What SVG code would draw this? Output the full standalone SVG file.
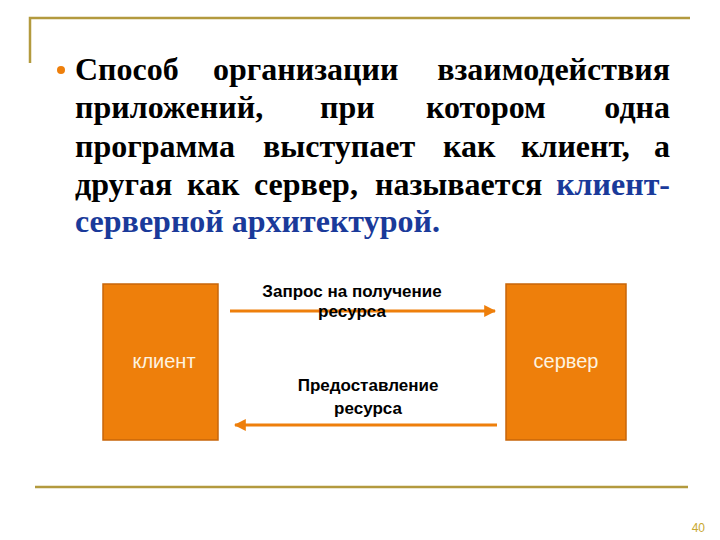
<svg xmlns="http://www.w3.org/2000/svg" width="720" height="540" viewBox="0 0 720 540">
<defs>
<style>
.frame{stroke:#b39a3e;stroke-width:2.5;fill:none}
.body{font-family:"Liberation Serif","Times New Roman",serif;font-weight:bold;font-size:32px;fill:#000}
.end{text-anchor:end}
.blue{fill:#1a3a9a}
.box{fill:#ee7f0b;stroke:#c7660a;stroke-width:1.5}
.boxlbl{font-family:"Liberation Sans",Arial,sans-serif;font-size:20px;fill:#fdf3e0;text-anchor:middle}
.lbl{font-family:"Liberation Sans",Arial,sans-serif;font-size:17px;font-weight:bold;fill:#000;text-anchor:middle}
.conn{stroke:#ee7f0b;stroke-width:3;fill:none}
</style>
<marker id="ah" viewBox="0 0 10 10" refX="9" refY="5" markerWidth="4" markerHeight="4" orient="auto-start-reverse" markerUnits="strokeWidth">
<path d="M0,0 L10,5 L0,10 z" fill="#ee7f0b"/>
</marker>
</defs>
<rect width="720" height="540" fill="#fff"/>
<g id="frame">
<path class="frame" d="M30,63 V18 H690"/>
<path class="frame" d="M35,487 H688"/>
<text x="705" y="532" font-family="Liberation Sans,Arial,sans-serif" font-size="12" fill="#c8a830" text-anchor="end">40</text>
</g>
<g id="text">
<circle cx="61" cy="70" r="4" fill="#ee7f0b"/>
<text class="body" y="80"><tspan x="75">Способ</tspan><tspan x="213">организации</tspan></text>
<text class="body end" x="670" y="80">взаимодействия</text>
<text class="body" y="118"><tspan x="75">приложений,</tspan><tspan x="320">при</tspan><tspan x="426">котором</tspan></text>
<text class="body end" x="670" y="118">одна</text>
<text class="body" y="157"><tspan x="75">программа</tspan><tspan x="263">выступает</tspan><tspan x="443">как</tspan><tspan x="521">клиент,</tspan></text>
<text class="body end" x="670" y="157">а</text>
<text class="body" y="195"><tspan x="75">другая</tspan><tspan x="187">как</tspan><tspan x="254">сервер,</tspan><tspan x="375">называется</tspan></text>
<text class="body blue end" x="670" y="195">клиент-</text>
<text class="body blue" x="75" y="232">серверной архитектурой.</text>
</g>
<g id="client">
<rect class="box" x="103" y="284" width="115" height="156"/>
<text class="boxlbl" x="164" y="368">клиент</text>
</g>
<g id="server">
<rect class="box" x="506" y="284" width="120" height="156"/>
<text class="boxlbl" x="566" y="368">сервер</text>
</g>
<g id="connectors">
<line class="conn" x1="230" y1="311" x2="495" y2="311" marker-end="url(#ah)"/>
<line class="conn" x1="497" y1="425" x2="235" y2="425" marker-end="url(#ah)"/>
<text class="lbl" x="352" y="297">Запрос на получение</text>
<text class="lbl" x="352" y="317">ресурса</text>
<text class="lbl" x="368" y="391">Предоставление</text>
<text class="lbl" x="368" y="414">ресурса</text>
</g>
</svg>
